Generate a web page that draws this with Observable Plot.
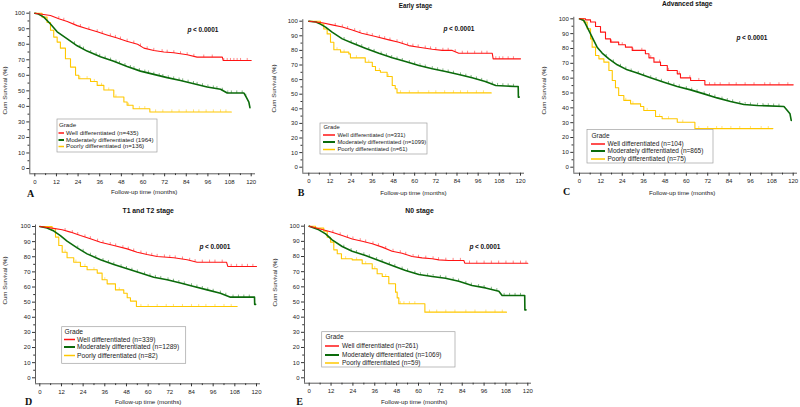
<!DOCTYPE html>
<html><head><meta charset="utf-8">
<script src="https://cdn.jsdelivr.net/npm/d3@7"></script>
<script src="https://cdn.jsdelivr.net/npm/@observablehq/plot@0.6"></script>
<style>
body{margin:0;background:#fff;}
#wrap{position:relative;width:800px;height:407px;overflow:hidden;background:#fff;color:#000;}
</style></head><body><div id="wrap"></div>
<script>
// ---------- tick labels ----------
const xTicks = [0,12,24,36,48,60,72,84,96,108,120];
const xMinor = [6,18,30,42,54,66,78,90,102,114];
const yTicks = [0,10,20,30,40,50,60,70,80,90,100];
const yMinor = [5,15,25,35,45,55,65,75,85,95];
const groupNames = ["Well differentiated","Moderately differentiated","Poorly differentiated"];
const groupColors = ["#ff1414","#0b6b0b","#ffc800"];
const panelIds = ["A","B","C","D","E"];
const panelTitles = ["","Early stage","Advanced stage","T1 and T2 stage","N0 stage"];
const nA = ["(n=435)","(1964)","(n=136)"];
const nB = ["(n=331)","(n=1099)","(n=61)"];
const nC = ["(n=104)","(n=865)","(n=75)"];
const nD = ["(n=339)","(n=1289)","(n=82)"];
const nE = ["(n=261)","(n=1069)","(n=59)"];
const pText = "p < 0.0001";

// ---------- survival curves (months, cum survival %) ----------
const A_well_t = [0,3,8.7,13.3,18,23.5,29,34.6,40,45.7,51,57,60.5,66,71.6,77,84.5,90,104,104.5,120];
const A_well_s = [100,99.5,98.5,96.4,94.7,92,90,88,86,84,82,80,77.5,76,75,74.5,73.2,71.7,71.7,69.5,69.5];
const A_mod_t = [0,2,5,8.7,12.4,18,23.5,29,36.4,43.8,51.2,58.6,66,73.4,80.8,88.2,95.6,103,106.7,116,117.4,118.7,119.3];
const A_mod_s = [100,99.5,97.5,93,88,83.5,79,75.6,72,69,65.7,62.7,60.6,58.5,56.7,54.6,52.5,51,48.6,48.6,45.6,42.8,39.2];
const A_poor_t = [0,4,6.8,8.7,10.5,12.4,14.2,17,19.8,22.6,24.4,30.9,34.6,38.3,43.8,49.4,51.2,54.5,63.8,109];
const A_poor_s = [100,97.5,94,89,84.6,81.4,77.5,70.7,65.3,60,57.8,56,53.5,50.5,46,42.8,40.7,38.5,36.4,36.4];

const B_well_t = [0,7.6,13.2,19,24.6,30,37.8,45.4,51,56.7,62.4,70,75.6,81.3,85,104,104.5,120];
const B_well_s = [100,98.9,97.5,96,94,91.8,89.5,87.2,85.6,83.3,82.2,80.8,80,80,78,78,74.2,74.2];
const B_mod_t = [0,4,6.6,9.5,13.2,19,24.6,32,39.7,47.3,54.8,62.4,70,77.5,85,92.6,100,106,117,118.7,118.8,119.3];
const B_mod_s = [100,99.5,98,95.9,92.5,87.9,85,81.5,78,74.9,72.4,69.6,67.4,65.5,63.5,61.2,58.7,56,55.3,55.3,48,48];
const B_poor_t = [0,6.6,8.5,10.4,12.3,14.2,18,22.7,23.6,32,36,37.8,40.6,44.4,47.3,49,50,103.4];
const B_poor_s = [100,98,94.7,91.3,85.6,80.4,78.8,77.6,74.9,71.9,69,66.2,65,62.1,56,53.7,50.9,50.9];

const C_well_t = [0,3.4,6.2,9,11.8,14.6,17.4,22,25.8,29.6,37,39,41.8,45.5,49.3,54.9,56.7,62.4,70.4,120];
const C_well_s = [100,99.3,97.8,94.8,91,86.5,84.3,82.5,80.9,78.7,76.4,73.7,70.8,68.5,65.2,62.9,60.2,58.4,55.5,55.5];
const C_mod_t = [0,2.4,4.3,6.2,8,9.9,12.7,16.5,21.2,26.8,32.4,39.9,47.4,54.9,62.4,69.9,77.3,84.8,92.3,99.8,114.8,116.7,118.2,118.9];
const C_mod_s = [100,98.9,94.4,89.9,85.4,80.9,76.9,73,69,65.6,63.4,60.2,57.3,54.4,52.1,49.4,46.7,44.3,42.2,41.6,40.9,38.2,36,31.5];
const C_poor_t = [0,2.4,4.3,6.2,7.1,9,10.9,13.7,16.5,18.4,20.2,22,24.9,28.7,34.3,36.1,42.7,46.4,54.9,64.8,108.6];
const C_poor_s = [100,97.8,93.3,86.5,80.9,75.3,73,70.8,65.2,58.4,53.5,48.3,45,42.7,40.9,38.2,34.2,32.6,30.3,26,26];

const D_well_t = [0,5.9,12.4,17,22.5,28,33.6,41,48.4,53.9,59.4,65,74.2,81.6,87.1,103.4,104.1,120];
const D_well_s = [100,99.1,97.8,96.3,94,91.9,89.6,87.4,85.2,83,81.5,80.2,79.3,78,76.4,76.4,73.6,73.6];
const D_mod_t = [0,4,7.8,11.4,15.1,20.7,26.2,33.6,41,48.4,55.8,63.1,70.5,77.9,85.3,92.7,100,105.6,118.9,119,119.5];
const D_mod_s = [100,99,97,94,90.3,85.9,81.9,78,74.9,72,69.2,66.5,64.8,62.6,60.4,58.1,55.9,53.3,53.3,48.5,48.5];
const D_poor_t = [0,6.8,8.7,10.5,12.4,15.1,18.8,22.5,26.2,31.8,34.5,37.3,41.9,46.5,48.4,50.2,53.5,109.3];
const D_poor_s = [100,98.5,93,87.4,83,79.3,76.4,73.6,71.4,69.2,64.8,62.1,58.1,55.9,52.9,50.7,47.1,47.1];

const E_well_t = [0,7.1,12.6,18.1,23.6,29.1,34.6,40.1,45.5,51,56.5,62,67.5,71.2,76.6,84.9,85.4,120];
const E_well_s = [100,97.8,96,93.8,91.6,90.1,88.4,86.2,83.5,82.2,80,79.1,78.5,77.8,77.4,77.4,75.6,75.6];
const E_mod_t = [0,5.3,9,12.6,18.1,23.6,30.9,38.2,45.5,52.9,60.2,67.5,74.8,82.1,89.4,96.8,104.1,105.9,118.3,118.4,119];
const E_mod_s = [100,97.6,94.9,91,86.6,83.5,80.7,77.4,74.1,70.8,68.1,66.8,65.7,63.7,60.9,59.3,57.1,54.3,54.3,44.8,44.8];
const E_poor_t = [0,3.5,8,9.9,11.7,13.5,15.4,17.7,23.6,29.1,34.6,37.3,40.1,43.7,47.4,48.3,49.2,63.5,108.3];
const E_poor_s = [100,98.7,96.7,92.7,89.5,84.4,81.8,78.5,77.8,75.2,71.9,68.6,66.8,62,56.5,52.7,48.8,43.3,43.3];

// ---------- censoring times (months) ----------
const A_well_c = [13.3,16.1,21.6,25.3,30,34.6,37.4,41.9,44.7,47.5,51.2,54.9,58.6,62.3,66,70.6,73.4,77.1,80.8,84.5,88.2,93.7,98.4,104.8,106.7,108.5,110.4,112.2,114.1,117.8];
const A_mod_c = [22,25,27,31,34,36,39,42,45,47,50,53,55,58,61,63,66,69,71,74,77,80,82,85,88,90,93,96,99,101,104,107,109,112,115,117];
const A_poor_c = [25,29,33,37,41,45,52,58,61,67,71,76,80,84,88,91,95,99,103,106];
const B_well_c = [15,19,22,26,29,33,36,40,43,46,50,53,56,59,62,66,69,72,76,79,83,87,90,94,98,101,106,108,110,113,116];
const B_mod_c = [20,24,27,30,34,37,41,44,47,50,53,57,60,63,66,70,73,76,79,82,86,89,92,95,98,101,104,107,110,113,116];
const B_poor_c = [16,20,27,34,40,45,52,57,62,68,72,77,82,86,90,95,99];
const C_well_c = [18,24,30,35,40,45,50,56,62,67,73,76,79,84,88,93,98,104,107,112,117];
const C_mod_c = [15,19,23,26,29,33,36,40,43,46,50,53,56,60,63,66,70,73,76,80,83,86,90,93,96,100,103,106,109,112];
const C_poor_c = [26,30,38,45,50,58,67,72,77,80,85,90,96,102,106];
const D_well_c = [14,18,21,25,28,32,35,39,42,46,49,52,56,59,62,65,69,72,75,79,83,86,90,94,97,101,106,109,112,115,118];
const D_mod_c = [21,24,28,31,35,38,41,45,48,51,54,58,61,64,67,71,74,77,80,84,87,90,93,96,100,103,107,110,113,116];
const D_poor_c = [14,20,25,30,36,44,56,60,65,70,74,79,84,88,92,97,102,106];
const E_well_c = [13,17,21,24,28,31,35,38,42,46,50,53,57,60,64,68,71,75,79,83,88,92,96,100,104,108,112,116,119];
const E_mod_c = [19,23,26,30,33,37,40,44,47,51,54,58,61,65,68,72,75,79,82,86,89,93,96,100,103,107,110,113,116];
const E_poor_c = [20,26,31,36,42,50,52,55,58,66,70,75,80,86,91,97,102,106];

// ---------- panel layout (page pixels) ----------
const layouts = {
  A:{box:[0,0,265,203],  x0:34.3, x120:250.7, ax:29.3, xr:255, y100:12.7, y0:168, ay:173.3,
     title:null, tfs:6.6, p:[187,29], ylab:[5,90], xlab:[143.7,192], letter:[30,193],
     leg:{box:[57,119,157,152], fs:6.2, grade:125, rows:[132.5,139.5,146], l1:58.5, l2:64, tx:65.5}},
  B:{box:[265,0,265,203], x0:308.3, x120:520, ax:302.3, xr:524, y100:20.7, y0:166.7, ay:172.7,
     title:[415,5], tfs:6.3, p:[443,28], ylab:[274,88], xlab:[413,193], letter:[300.5,192],
     leg:{box:[320,123,427,154], fs:5.8, grade:127, rows:[134.5,141.5,149], l1:323, l2:335, tx:337}},
  C:{box:[530,0,270,203], x0:579, x120:792.7, ax:573.3, xr:797, y100:18.3, y0:166.7, ay:172.7,
     title:[686.7,3.5], tfs:6.6, p:[736,37.7], ylab:[544,90], xlab:[681.7,192.7], letter:[566,191],
     leg:{box:[587,129.5,713,163], fs:6.5, grade:135.3, rows:[143.5,150.5,158.5], l1:591, l2:605, tx:607}},
  D:{box:[0,203,265,204], x0:39.3, x120:256, ax:35, xr:260, y100:226, y0:377.3, ay:383.3,
     title:[147.7,210], tfs:6.8, p:[199,246], ylab:[5,280], xlab:[147.7,401.7], letter:[28,401],
     leg:{box:[61.7,326.7,185.7,363.3], fs:6.7, grade:331, rows:[339,346.5,355], l1:64, l2:75, tx:76.5}},
  E:{box:[265,203,275,204], x0:308.7, x120:527.3, ax:304, xr:531, y100:225.7, y0:377.3, ay:382.7,
     title:[419,210], tfs:6.8, p:[469,246], ylab:[275,282], xlab:[413.7,401.7], letter:[299,401],
     leg:{box:[321.7,331.7,455,367], fs:6.5, grade:336, rows:[345.5,354.5,362.5], l1:325, l2:339, tx:341.5}}
};

const panelData = {
  A:{t:[A_well_t,A_mod_t,A_poor_t], s:[A_well_s,A_mod_s,A_poor_s], c:[A_well_c,A_mod_c,A_poor_c], n:nA, curve:["linear","linear","step-after"]},
  B:{t:[B_well_t,B_mod_t,B_poor_t], s:[B_well_s,B_mod_s,B_poor_s], c:[B_well_c,B_mod_c,B_poor_c], n:nB, curve:["linear","linear","step-after"]},
  C:{t:[C_well_t,C_mod_t,C_poor_t], s:[C_well_s,C_mod_s,C_poor_s], c:[C_well_c,C_mod_c,C_poor_c], n:nC, curve:["step-after","linear","step-after"]},
  D:{t:[D_well_t,D_mod_t,D_poor_t], s:[D_well_s,D_mod_s,D_poor_s], c:[D_well_c,D_mod_c,D_poor_c], n:nD, curve:["linear","linear","step-after"]},
  E:{t:[E_well_t,E_mod_t,E_poor_t], s:[E_well_s,E_mod_s,E_poor_s], c:[E_well_c,E_mod_c,E_poor_c], n:nE, curve:["linear","linear","step-after"]}
};

const FONT = "'Liberation Sans', Arial, sans-serif";
const censorSymbol = {draw(ctx, size){ const r = Math.sqrt(size/Math.PI); ctx.moveTo(0, 0); ctx.lineTo(0, -r*1.3); }};

function valueAt(ts, ss, t, curve){
  if (t >= ts[ts.length-1]) return ss[ss.length-1];
  let i = 0; while (i < ts.length-1 && ts[i+1] <= t) i++;
  if (curve === "step-after") return ss[i];
  const f = (t - ts[i])/(ts[i+1]-ts[i]); return ss[i] + f*(ss[i+1]-ss[i]);
}

function buildPanel(id, idx){
  const L = layouts[id], P = panelData[id];
  const [left, top, W, H] = L.box;
  const sx = 120/(L.x120 - L.x0), sy = 100/(L.y0 - L.y100);
  const X = px => (px - L.x0)*sx;
  const Y = py => (L.y0 - py)*sy;
  const ytop = L.y100 - 1.5;
  const marks = [];
  // axis lines
  marks.push(Plot.ruleX([X(L.ax)], {y1: Y(L.ay), y2: Y(ytop), stroke:"#333", strokeWidth:0.8}));
  marks.push(Plot.ruleY([Y(L.ay)], {x1: X(L.ax), x2: X(L.xr), stroke:"#333", strokeWidth:0.8}));
  // axes
  marks.push(Plot.axisX({ticks:xTicks, tickSize:3, tickPadding:3, fontSize:6, label:null, stroke:"#333", fontFamily:FONT, fill:"#222"}));
  marks.push(Plot.axisX({ticks:xMinor, tickSize:1.8, tickFormat:()=>"", label:null, stroke:"#333"}));
  marks.push(Plot.axisY({ticks:yTicks, tickSize:3, tickPadding:2, fontSize:6, label:null, stroke:"#333", fontFamily:FONT, fill:"#222"}));
  marks.push(Plot.axisY({ticks:yMinor, tickSize:1.8, tickFormat:()=>"", label:null, stroke:"#333"}));
  // curves, drawn poorly -> well so red is on top
  for (let g = 2; g >= 0; g--){
    const rows = P.t[g].map((t,i)=>({t, s:P.s[g][i]}));
    marks.push(Plot.line(rows, {x:"t", y:"s", stroke:groupColors[g], strokeWidth: g===1?1.6:1.1, curve:P.curve[g]}));
    const cens = P.c[g].map(t=>({t, s:valueAt(P.t[g], P.s[g], t, P.curve[g])}));
    marks.push(Plot.dot(cens, {x:"t", y:"s", symbol:censorSymbol, r:2, stroke:groupColors[g], fill:"none", strokeWidth:0.6, strokeOpacity:0.85}));
  }
  // axis titles
  marks.push(Plot.text(["Follow-up time (months)"], {x:X(L.xlab[0]), y:Y(L.xlab[1]), fontSize:6.2, fontFamily:FONT, fill:"#222"}));
  marks.push(Plot.text(["Cum Survival (%)"], {x:X(L.ylab[0]), y:Y(L.ylab[1]), rotate:-90, fontSize:6.2, fontFamily:FONT, fill:"#222"}));
  // panel letter
  marks.push(Plot.text([id], {x:X(L.letter[0]), y:Y(L.letter[1]), fontSize:10, fontWeight:"bold", fontFamily:"'Liberation Serif', 'Times New Roman', serif", fill:"#111"}));
  // title
  if (L.title) marks.push(Plot.text([panelTitles[idx]], {x:X(L.title[0]), y:Y(L.title[1]), fontSize:L.tfs, fontWeight:"bold", fontFamily:FONT, fill:"#111"}));
  // p value
  marks.push(Plot.text([pText.slice(0,1)], {x:X(L.p[0]), y:Y(L.p[1]), textAnchor:"start", fontSize:6.5, fontWeight:"bold", fontStyle:"italic", fontFamily:FONT, fill:"#111"}));
  marks.push(Plot.text([pText.slice(1)], {x:X(L.p[0]+3.6), y:Y(L.p[1]), textAnchor:"start", fontSize:6.5, fontWeight:"bold", fontFamily:FONT, fill:"#111"}));
  // legend
  const lg = L.leg;
  marks.push(Plot.rect([0], {x1:X(lg.box[0]), x2:X(lg.box[2]), y1:Y(lg.box[3]), y2:Y(lg.box[1]), fill:"white", stroke:"#a0a0a0", strokeWidth:0.7}));
  marks.push(Plot.text(["Grade"], {x:X(lg.l1), y:Y(lg.grade), textAnchor:"start", fontSize:lg.fs, fontFamily:FONT, fill:"#222"}));
  for (let g = 0; g < 3; g++){
    marks.push(Plot.ruleY([Y(lg.rows[g])], {x1:X(lg.l1), x2:X(lg.l2), stroke:groupColors[g], strokeWidth: g===1?2:1.5}));
    marks.push(Plot.text([groupNames[g] + " " + P.n[g]], {x:X(lg.tx), y:Y(lg.rows[g]), textAnchor:"start", fontSize:lg.fs, fontFamily:FONT, fill:"#222"}));
  }
  const chart = Plot.plot({
    width: W, height: H,
    marginLeft: L.ax - left, marginRight: left + W - L.xr,
    marginTop: ytop - top, marginBottom: top + H - L.ay,
    x: {domain:[X(L.ax), X(L.xr)]},
    y: {domain:[Y(L.ay), Y(ytop)]},
    style: {position:"absolute", left:left+"px", top:top+"px", background:"transparent", overflow:"visible", maxWidth:"none", fontFamily:FONT},
    marks
  });
  document.getElementById("wrap").appendChild(chart);
}
panelIds.forEach((id, i) => buildPanel(id, i));
</script></body></html>
